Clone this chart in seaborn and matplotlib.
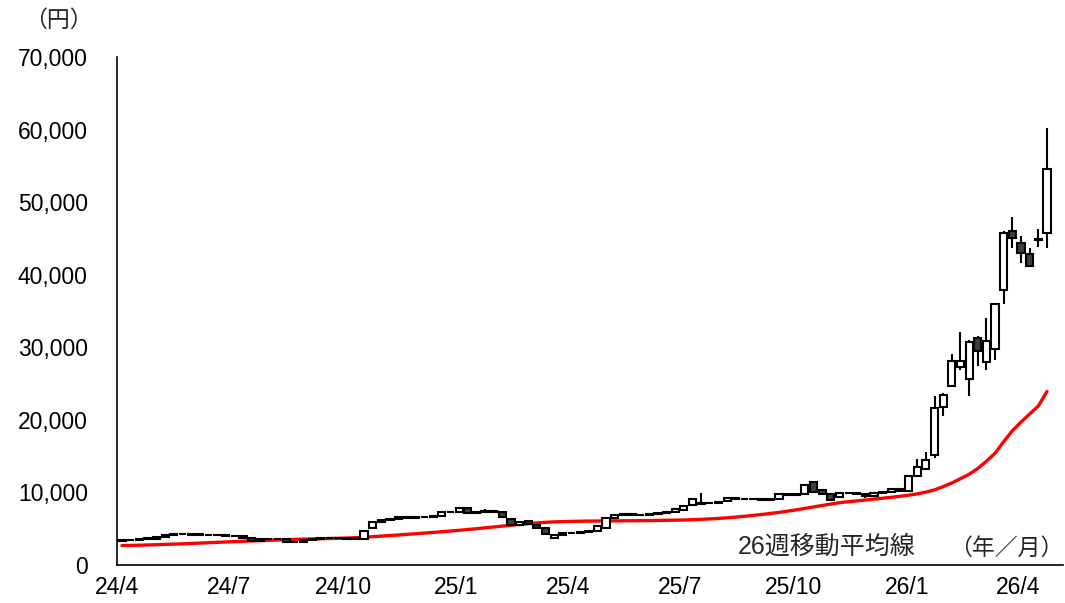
import numpy as np
import pandas as pd
import matplotlib
matplotlib.use("Agg")
import matplotlib.pyplot as plt
import seaborn as sns
from matplotlib.ticker import FuncFormatter

# ---------------- data (weekly candles, yen) ----------------
start_date = "2024-04-05"

open_ = [3300, 3400, 3450, 3750, 3600, 3850, 4150, 4250, 4300, 4200,
         4150, 4100, 4150, 4050, 3950, 3700, 3300, 3550, 3600, 3550,
         3200, 3150, 3450, 3650, 3700, 3750, 3700, 3650, 3650, 5150,
         5950, 6250, 6350, 6600, 6450, 6550, 6650, 6800, 7250, 7300,
         7800, 7150, 7350, 7500, 7250, 6300, 5550, 6000, 5550, 5050,
         3700, 4150, 4350, 4450, 4600, 4750, 5150, 6450, 6900, 7000,
         6850, 6950, 7050, 7100, 7250, 7600, 8250, 8450, 8550, 8600,
         8750, 9250, 9050, 9150, 9050, 8950, 9050, 9750, 9650, 9850,
         11450, 10400, 9750, 9400, 9950, 9900, 9850, 9450, 9900, 10050,
         10450, 10150, 12250, 13250, 15150, 21800, 24700, 27250, 25650, 31250,
         27950, 29700, 37900, 46050, 44350, 42800, 44800, 45700]

close_ = [3400, 3450, 3550, 3600, 3850, 4150, 4250, 4300, 4200, 4150,
          4100, 4150, 4050, 3950, 3700, 3300, 3550, 3600, 3550, 3200,
          3150, 3450, 3650, 3700, 3750, 3700, 3650, 3700, 4650, 5950,
          6250, 6350, 6600, 6450, 6550, 6650, 6800, 7250, 7300, 7800,
          7150, 7350, 7500, 7250, 6550, 5550, 5950, 5600, 5050, 4300,
          4150, 4350, 4450, 4600, 4750, 5350, 6450, 6900, 7000, 6900,
          6950, 7050, 7100, 7250, 7650, 8150, 9050, 8550, 8600, 8750,
          9250, 9100, 9150, 9050, 8950, 9050, 9750, 9650, 9750, 11000,
          10100, 9750, 8900, 9950, 9900, 9850, 9450, 9900, 10050, 10450,
          10150, 12250, 13550, 14450, 21650, 23450, 28150, 28150, 30750, 29500,
          30900, 35900, 45800, 45000, 43050, 41250, 44950, 54550]

high_ = [3450, 3500, 3600, 3800, 3900, 4200, 4350, 4400, 4350, 4250,
         4250, 4250, 4200, 4100, 4000, 3750, 3600, 3700, 3650, 3600,
         3300, 3500, 3700, 3800, 3850, 3800, 3750, 3800, 4700, 6050,
         6350, 6500, 6700, 6700, 6650, 6750, 6900, 7350, 7400, 7950,
         7900, 7500, 7700, 7600, 7300, 6400, 6050, 6100, 5600, 5100,
         4250, 4450, 4550, 4700, 4850, 5450, 6550, 7000, 7100, 7050,
         7000, 7150, 7200, 7350, 7750, 8250, 9200, 9900, 8700, 8850,
         9350, 9300, 9250, 9200, 9100, 9150, 9850, 9850, 9900, 11100,
         11550, 10500, 9800, 10050, 10050, 10000, 9900, 10000, 10150, 10550,
         10500, 12400, 14600, 15600, 23300, 23700, 29100, 32150, 31000, 31500,
         34000, 36100, 46000, 48000, 45350, 43650, 46300, 60200]

low_ = [3250, 3350, 3400, 3550, 3550, 3800, 4100, 4150, 4100, 4050,
        4000, 4000, 3950, 3850, 3600, 3150, 3250, 3500, 3450, 3100,
        3050, 3100, 3400, 3600, 3650, 3600, 3550, 3600, 3600, 5100,
        5900, 6150, 6300, 6350, 6350, 6500, 6600, 6750, 7150, 7250,
        7050, 7050, 7300, 7150, 6450, 5450, 5500, 5500, 4950, 4200,
        3550, 4100, 4300, 4400, 4550, 4700, 5100, 6400, 6850, 6800,
        6800, 6900, 6950, 7050, 7200, 7550, 8200, 8400, 8450, 8550,
        8700, 9000, 9000, 8950, 8850, 8900, 9000, 9550, 9550, 9800,
        10000, 9650, 8800, 9350, 9800, 9750, 9300, 9400, 9850, 10000,
        10050, 10100, 12200, 13200, 14750, 20550, 24500, 26850, 23300, 27450,
        26850, 28250, 35900, 43650, 41650, 41200, 43850, 43650]

ma26 = [2680, 2700, 2730, 2760, 2800, 2840, 2880, 2920, 2970, 3020,
        3070, 3120, 3170, 3220, 3270, 3320, 3370, 3410, 3450, 3490,
        3530, 3560, 3590, 3620, 3650, 3680, 3710, 3760, 3820, 3900,
        3980, 4060, 4140, 4220, 4310, 4400, 4490, 4580, 4680, 4780,
        4890, 5000, 5120, 5240, 5360, 5480, 5590, 5700, 5800, 5880,
        5940, 5980, 6010, 6030, 6050, 6060, 6070, 6080, 6090, 6100,
        6110, 6120, 6140, 6160, 6180, 6200, 6240, 6290, 6350, 6420,
        6500, 6600, 6710, 6830, 6960, 7100, 7250, 7420, 7600, 7800,
        8000, 8200, 8400, 8580, 8720, 8830, 8950, 9080, 9200, 9330,
        9470, 9620, 9800, 10050, 10350, 10800, 11300, 11900, 12500, 13300,
        14300, 15400, 17000, 18500, 19700, 20800, 21900, 23900]

tick_dates = ["2024-04-01", "2024-07-01", "2024-10-01", "2025-01-01", "2025-04-01",
              "2025-07-01", "2025-10-01", "2026-01-01", "2026-04-01"]
tick_labels = ["24/4", "24/7", "24/10", "25/1", "25/4", "25/7", "25/10", "26/1", "26/4"]

# ---------------- frame ----------------
dates = pd.date_range(start_date, periods=len(close_), freq="7D")
df = pd.DataFrame({"date": dates, "open": open_, "high": high_,
                   "low": low_, "close": close_, "ma26": ma26})

sns.set_theme(style="white")
plt.rcParams["font.family"] = ["Liberation Sans", "Noto Sans CJK JP"]
plt.rcParams["axes.unicode_minus"] = False

W, H = 1065, 603
fig = plt.figure(figsize=(W / 100, H / 100), dpi=100)
ax = fig.add_axes([117 / W, 1 - 565 / H, (1063 - 117) / W, (565 - 57) / H])

# moving average
sns.lineplot(data=df, x="date", y="ma26", color="#ff0000", lw=2.4, ax=ax,
             zorder=2, legend=False)

# candles
up = df["close"] >= df["open"]
bottoms = np.minimum(df["open"], df["close"])
heights = np.abs(df["close"] - df["open"])
heights = np.maximum(heights, 60)
ax.vlines(df["date"], df["low"], df["high"], color="black", lw=1.5, zorder=3)
ax.bar(df["date"][up], heights[up], bottom=bottoms[up], width=5.8,
       color="white", edgecolor="black", linewidth=1.5, zorder=4)
ax.bar(df["date"][~up], heights[~up], bottom=bottoms[~up], width=5.8,
       color="#3f3f3f", edgecolor="black", linewidth=1.5, zorder=4)

# axes styling
ax.set_ylim(0, 70000)
ax.set_xlim(pd.Timestamp("2024-04-01"), pd.Timestamp("2026-05-07"))
ax.set_yticks(np.arange(0, 70001, 10000))
ax.yaxis.set_major_formatter(FuncFormatter(lambda v, p: f"{int(v):,}"))
ax.set_xticks(pd.to_datetime(tick_dates))
ax.set_xticklabels(tick_labels)
ax.set_xlabel("")
ax.set_ylabel("")
for s in ["top", "right"]:
    ax.spines[s].set_visible(False)
for s in ["left", "bottom"]:
    ax.spines[s].set_color("black")
    ax.spines[s].set_linewidth(1.2)
ax.tick_params(axis="both", direction="out", length=5, width=1.2,
               color="black", labelcolor="black", labelsize=16.5)
ax.tick_params(axis="y", pad=16)
ax.tick_params(axis="x", pad=3)
ax.grid(False)

fig.text(58 / W, 1 - 20 / H, "（円）", ha="center", va="center", fontsize=16.5)
fig.text(827 / W, 1 - 547 / H, "26週移動平均線", ha="center", va="center", fontsize=18)
fig.text(1063 / W, 1 - 548 / H, "（年／月）", ha="right", va="center", fontsize=16.5)

fig.savefig("out.png", dpi=100)
